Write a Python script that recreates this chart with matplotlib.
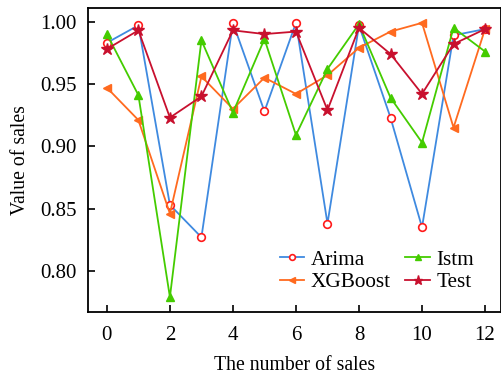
import matplotlib
matplotlib.use("Agg")
import matplotlib.pyplot as plt

x = list(range(13))
arima = [0.983, 0.997, 0.853, 0.827, 0.999, 0.928, 0.999, 0.838, 0.997, 0.923, 0.835, 0.989, 0.994]
istm = [0.990, 0.941, 0.779, 0.985, 0.927, 0.986, 0.909, 0.962, 0.998, 0.939, 0.903, 0.995, 0.976]
xgb = [0.947, 0.921, 0.846, 0.956, 0.930, 0.955, 0.942, 0.957, 0.979, 0.992, 0.999, 0.915, 0.994]
test = [0.978, 0.993, 0.923, 0.940, 0.993, 0.990, 0.992, 0.929, 0.995, 0.974, 0.942, 0.982, 0.994]

plt.rcParams['font.family'] = ['Liberation Serif', 'DejaVu Serif']
plt.rcParams['mathtext.fontset'] = 'stix'

fig = plt.figure(figsize=(5.01, 3.76), dpi=100)
ax = fig.add_axes([0.1756, 0.170, 0.824, 0.809])

ax.plot(x, arima, color='#3f8ae0', lw=1.3, marker='o', ms=5.5, mfc='white', mec='#ff1a1a', mew=1.2, label='Arima')
ax.plot(x, xgb, color='#ff6a1f', lw=1.3, marker='<', ms=5.5, mfc='#ff6a1f', mec='#ff6a1f', label='XGBoost')
ax.plot(x, istm, color='#44cc00', lw=1.3, marker='^', ms=5.5, mfc='#44cc00', mec='#44cc00', label='Istm')
ax.plot(x, test, color='#c8102e', lw=1.3, marker='*', ms=9, mfc='#c8102e', mec='#c8102e', label='Test')

ax.set_xlim(-0.6, 12.5)
ax.set_ylim(0.767, 1.011)
ax.set_xticks([0, 2, 4, 6, 8, 10, 12])
ax.set_yticks([0.80, 0.85, 0.90, 0.95, 1.00])
ax.set_yticklabels(['0.80', '0.85', '0.90', '0.95', '1.00'])
ax.tick_params(direction='in', labelsize=15, length=5, width=1.2)
ax.tick_params(axis='x', pad=10)
ax.tick_params(axis='y', pad=8)
for s in ax.spines.values():
    s.set_linewidth(1.3)

ax.set_xlabel('The number of sales', fontsize=14.2, labelpad=8)
ax.set_ylabel('Value of sales', fontsize=14.2, labelpad=7.5)

ax.legend(loc='lower right', ncol=2, frameon=False, fontsize=15.3,
          handlelength=1.15, handletextpad=0.3, columnspacing=0.7,
          labelspacing=0.12, borderaxespad=0, borderpad=0, markerscale=0.75,
          bbox_to_anchor=(0.935, 0.065))

fig.savefig('out.png', dpi=100)
